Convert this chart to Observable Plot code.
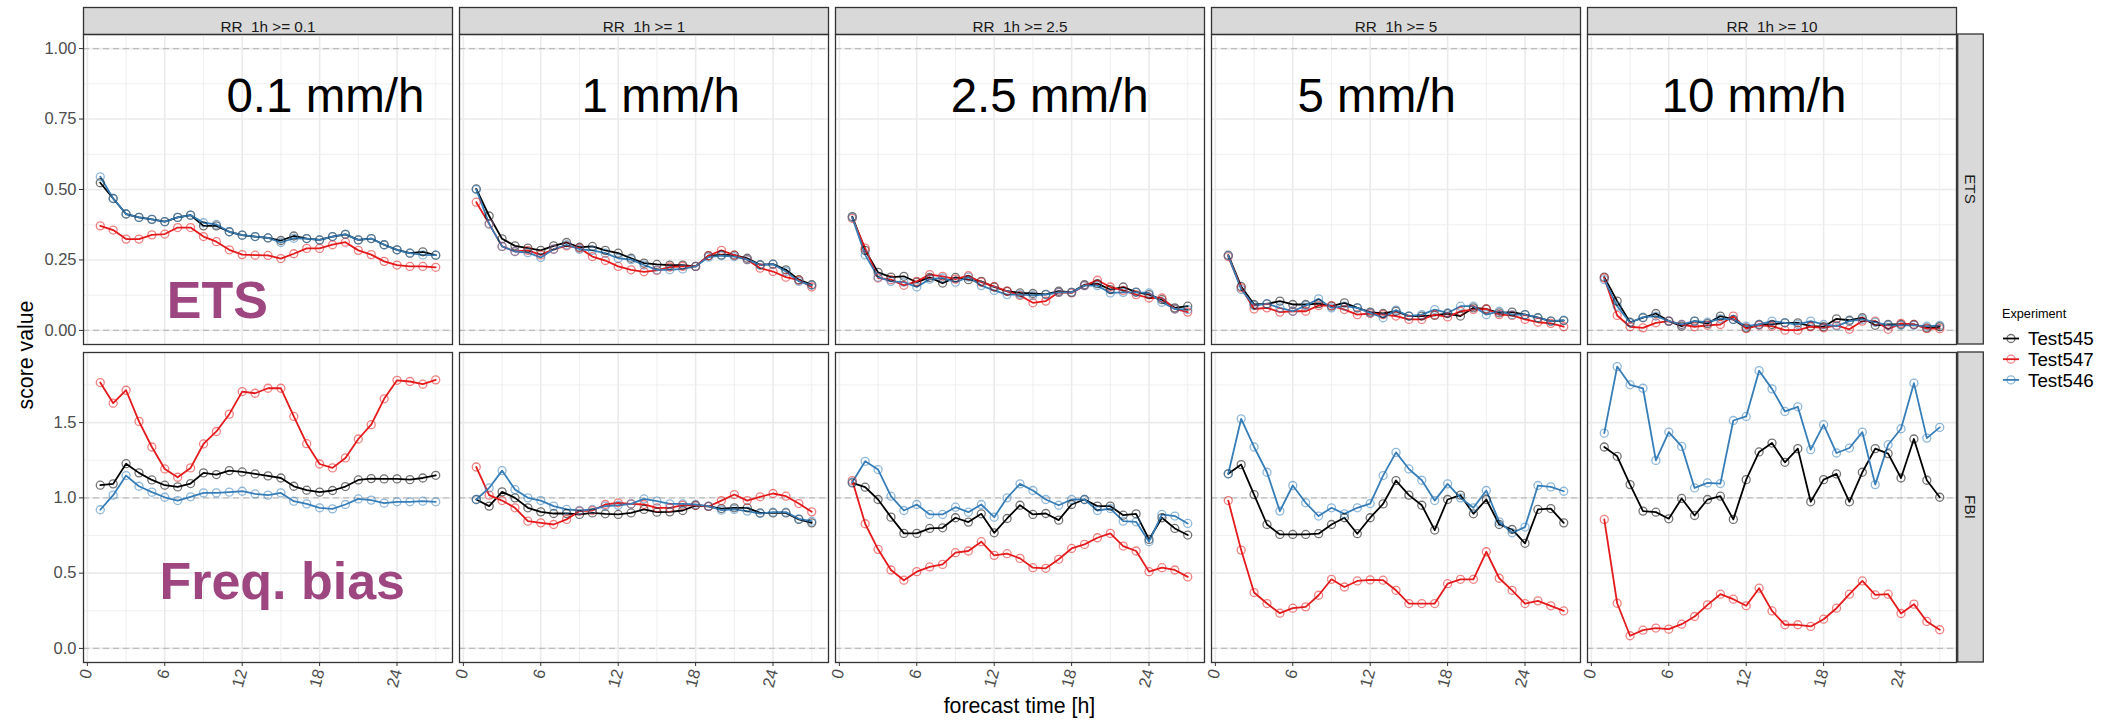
<!DOCTYPE html>
<html>
<head>
<meta charset="utf-8">
<script src="https://cdn.jsdelivr.net/npm/d3@7"></script>
<script src="https://cdn.jsdelivr.net/npm/@observablehq/plot@0.6"></script>
<style>
  body { margin: 0; background: white; }
  #chart { position: relative; width: 2123px; height: 720px; font-family: "Liberation Sans", Arial, sans-serif; }
  #chart svg { position: absolute; left: 0; top: 0; }
</style>
</head>
<body>
<div id="chart"></div>
<script>
// ---------- data ----------
const thresholds = ["0.1", "1", "2.5", "5", "10"];
const hours = [1,2,3,4,5,6,7,8,9,10,11,12,13,14,15,16,17,18,19,20,21,22,23,24,25,26,27];
const experiments = ["Test545", "Test547", "Test546"];
const expColors = ["#000000", "#E41A1C", "#377EB8"];
const xTicks = [0, 6, 12, 18, 24];

// ETS per threshold (0.1, 1, 2.5, 5, 10)
const ets545 = [
  [0.524,0.468,0.413,0.401,0.394,0.386,0.401,0.409,0.371,0.371,0.35,0.338,0.333,0.328,0.319,0.335,0.326,0.321,0.333,0.341,0.321,0.326,0.304,0.286,0.274,0.279,0.267],
  [0.502,0.406,0.325,0.3,0.292,0.284,0.3,0.312,0.295,0.298,0.284,0.274,0.256,0.239,0.234,0.232,0.232,0.227,0.265,0.268,0.267,0.256,0.233,0.235,0.215,0.18,0.162],
  [0.404,0.284,0.206,0.189,0.192,0.171,0.188,0.168,0.188,0.18,0.174,0.154,0.139,0.133,0.131,0.128,0.139,0.135,0.162,0.166,0.145,0.154,0.136,0.127,0.109,0.08,0.086],
  [0.267,0.156,0.092,0.094,0.104,0.092,0.092,0.095,0.086,0.098,0.08,0.065,0.06,0.068,0.051,0.051,0.053,0.06,0.051,0.08,0.076,0.062,0.065,0.056,0.045,0.033,0.035],
  [0.189,0.104,0.029,0.045,0.06,0.033,0.015,0.033,0.024,0.051,0.039,0.009,0.021,0.021,0.027,0.027,0.015,0.013,0.041,0.036,0.045,0.018,0.021,0.021,0.021,0.009,0.013]
];
const ets547 = [
  [0.371,0.356,0.324,0.324,0.339,0.342,0.365,0.365,0.333,0.315,0.286,0.269,0.267,0.266,0.255,0.272,0.291,0.291,0.304,0.313,0.284,0.269,0.245,0.232,0.227,0.227,0.224],
  [0.455,0.378,0.298,0.28,0.284,0.268,0.288,0.3,0.292,0.262,0.248,0.227,0.215,0.208,0.213,0.225,0.227,0.227,0.265,0.284,0.267,0.251,0.221,0.209,0.189,0.178,0.154],
  [0.398,0.292,0.186,0.18,0.16,0.174,0.198,0.192,0.182,0.194,0.171,0.156,0.139,0.124,0.098,0.104,0.135,0.133,0.159,0.178,0.154,0.142,0.127,0.115,0.115,0.076,0.065],
  [0.262,0.151,0.076,0.08,0.065,0.068,0.068,0.088,0.088,0.074,0.056,0.06,0.056,0.051,0.039,0.039,0.056,0.048,0.068,0.074,0.076,0.056,0.053,0.039,0.029,0.025,0.013],
  [0.186,0.053,0.013,0.009,0.027,0.033,0.021,0.013,0.018,0.021,0.051,0.006,0.018,0.015,0.001,0.001,0.013,0.009,0.018,0.004,0.033,0.033,0.004,0.025,0.021,0.006,0.006]
];
const ets546 = [
  [0.545,0.468,0.413,0.401,0.394,0.386,0.401,0.409,0.382,0.376,0.35,0.338,0.333,0.328,0.312,0.327,0.326,0.321,0.333,0.341,0.321,0.326,0.304,0.286,0.274,0.268,0.267],
  [0.5,0.378,0.298,0.28,0.276,0.259,0.288,0.304,0.288,0.284,0.274,0.256,0.251,0.232,0.215,0.215,0.218,0.227,0.26,0.265,0.262,0.251,0.232,0.235,0.209,0.174,0.16],
  [0.401,0.268,0.189,0.174,0.171,0.154,0.182,0.186,0.171,0.189,0.159,0.142,0.127,0.127,0.124,0.127,0.135,0.135,0.159,0.159,0.133,0.135,0.135,0.133,0.1,0.076,0.074],
  [0.265,0.145,0.088,0.095,0.08,0.068,0.088,0.112,0.08,0.086,0.08,0.062,0.045,0.072,0.051,0.056,0.074,0.062,0.086,0.086,0.056,0.068,0.056,0.056,0.045,0.033,0.036],
  [0.18,0.086,0.027,0.047,0.051,0.033,0.021,0.033,0.029,0.041,0.039,0.015,0.021,0.033,0.027,0.021,0.033,0.021,0.015,0.033,0.039,0.029,0.018,0.018,0.018,0.015,0.018]
];

// FBI per threshold
const fbi545 = [
  [1.084,1.093,1.227,1.166,1.119,1.084,1.073,1.095,1.166,1.155,1.181,1.172,1.159,1.146,1.132,1.077,1.051,1.038,1.049,1.075,1.119,1.128,1.126,1.126,1.121,1.132,1.15],
  [0.989,0.945,1.04,1.0,0.934,0.907,0.896,0.896,0.89,0.9,0.894,0.89,0.9,0.923,0.905,0.907,0.916,0.949,0.943,0.929,0.934,0.934,0.9,0.9,0.9,0.857,0.834],
  [1.099,1.071,0.989,0.872,0.764,0.764,0.797,0.801,0.868,0.839,0.894,0.768,0.863,0.951,0.89,0.896,0.852,0.956,0.989,0.945,0.945,0.885,0.894,0.724,0.868,0.797,0.753],
  [1.16,1.221,1.022,0.823,0.757,0.757,0.757,0.762,0.823,0.868,0.762,0.868,0.96,1.115,1.018,0.951,0.786,0.989,1.018,0.894,0.989,0.823,0.79,0.698,0.923,0.929,0.834],
  [1.338,1.276,1.088,0.912,0.905,0.861,0.996,0.883,0.989,1.011,0.857,1.121,1.305,1.364,1.236,1.327,0.974,1.121,1.159,0.974,1.17,1.327,1.294,1.132,1.391,1.117,1.004]
];
const fbi547 = [
  [1.766,1.629,1.715,1.508,1.338,1.192,1.137,1.199,1.358,1.441,1.556,1.706,1.695,1.728,1.728,1.541,1.36,1.225,1.199,1.265,1.391,1.486,1.658,1.781,1.773,1.755,1.784],
  [1.205,1.018,0.982,0.934,0.845,0.834,0.823,0.857,0.912,0.916,0.956,0.967,0.96,0.956,0.934,0.934,0.951,0.951,0.943,0.982,1.022,0.982,1.007,1.029,1.011,0.962,0.907],
  [1.115,0.828,0.658,0.521,0.453,0.51,0.541,0.558,0.636,0.647,0.709,0.618,0.629,0.598,0.536,0.532,0.592,0.664,0.691,0.735,0.764,0.68,0.647,0.51,0.536,0.521,0.475],
  [0.982,0.653,0.371,0.298,0.234,0.267,0.276,0.353,0.459,0.408,0.448,0.455,0.453,0.386,0.298,0.298,0.298,0.43,0.459,0.459,0.642,0.466,0.386,0.298,0.316,0.283,0.249],
  [0.857,0.3,0.084,0.121,0.135,0.128,0.161,0.212,0.289,0.36,0.327,0.283,0.4,0.249,0.157,0.157,0.146,0.194,0.267,0.36,0.448,0.355,0.36,0.232,0.294,0.179,0.124]
];
const fbi546 = [
  [0.921,1.018,1.148,1.077,1.038,1.004,0.982,1.007,1.033,1.033,1.038,1.044,1.026,1.018,1.033,0.978,0.96,0.934,0.927,0.956,0.993,0.985,0.965,0.974,0.974,0.978,0.974],
  [0.989,1.066,1.181,1.055,1.0,0.982,0.945,0.923,0.916,0.923,0.945,0.951,0.96,0.993,0.978,0.96,0.96,0.956,0.945,0.918,0.923,0.912,0.896,0.905,0.905,0.861,0.845],
  [1.104,1.243,1.188,1.011,0.916,0.956,0.89,0.89,0.938,0.905,0.956,0.872,1.0,1.093,1.049,0.989,0.951,0.989,0.989,0.916,0.929,0.845,0.841,0.709,0.89,0.879,0.83],
  [1.16,1.525,1.338,1.17,0.912,1.082,0.967,0.879,0.934,0.894,0.934,0.962,1.148,1.302,1.192,1.117,0.982,1.093,1.0,0.934,1.049,0.841,0.768,0.806,1.082,1.073,1.044],
  [1.43,1.872,1.751,1.728,1.249,1.437,1.342,1.066,1.099,1.095,1.514,1.541,1.845,1.724,1.574,1.605,1.32,1.486,1.298,1.331,1.437,1.088,1.353,1.459,1.762,1.397,1.468]
];

// annotation texts (placed in data coordinates of each facet)
const mmLabels = ["0.1 mm/h", "1 mm/h", "2.5 mm/h", "5 mm/h", "10 mm/h"];
const mmLabelX = [18.45, 15.3, 16.3, 12.5, 12.6];
const mmLabelY = 0.83;

// ---------- build tables ----------
function table(seriesList) {
  const rows = [];
  experiments.forEach((e, i) => {
    seriesList[i].forEach((vals, t) => {
      vals.forEach((v, k) => rows.push({exp: e, thr: thresholds[t], h: hours[k], v}));
    });
  });
  return rows;
}
const etsRows = table([ets545, ets547, ets546]);
const fbiRows = table([fbi545, fbi547, fbi546]);

// ---------- layout ----------
const W = 2123, H = 720;
const FONT = '"Liberation Sans", Arial, sans-serif';
const common = {
  width: W, height: H,
  marginLeft: 81, marginRight: 165.3,
  style: {background: "transparent", fontFamily: FONT, overflow: "visible"},
  fx: {domain: thresholds, paddingInner: 0.0178, paddingOuter: 0, axis: null, label: null},
  color: {domain: experiments, range: expColors}
};

function seriesMarks(rows) {
  return [
    Plot.line(rows, {x: "h", y: "v", fx: "thr", z: "exp", stroke: "exp", strokeWidth: 1.8}),
    Plot.dot(rows, {x: "h", y: "v", fx: "thr", stroke: "exp", fill: "none", r: 4, strokeWidth: 1.3, strokeOpacity: 0.55})
  ];
}
const gridStroke = "#ebebeb";

const plotA = Plot.plot({
  ...common,
  marginTop: 34, marginBottom: H - 344,
  x: {domain: [-0.3, 28.3], axis: null},
  y: {domain: [-0.05, 1.05], axis: null},
  marks: [
    Plot.frame({fill: "#d9d9d9", stroke: "#333333", strokeWidth: 1.3, insetTop: -27, insetBottom: 310}),
    Plot.text(thresholds, {fx: d => d, text: d => "RR_1h >= " + d, frameAnchor: "top", dy: -13.5, fontSize: 15.3, fill: "#1a1a1a"}),
    Plot.gridY({ticks: [0.125, 0.375, 0.625, 0.875], stroke: gridStroke, strokeOpacity: 1, strokeWidth: 0.8}),
    Plot.gridX({ticks: [3, 9, 15, 21, 27], stroke: gridStroke, strokeOpacity: 1, strokeWidth: 0.8}),
    Plot.gridY({ticks: [0, 0.25, 0.5, 0.75, 1], stroke: gridStroke, strokeOpacity: 1, strokeWidth: 1.6}),
    Plot.gridX({ticks: xTicks, stroke: gridStroke, strokeOpacity: 1, strokeWidth: 1.6}),
    Plot.ruleY([0, 1], {stroke: "#bdbdbd", strokeWidth: 1.3, strokeDasharray: "6,4"}),
    ...seriesMarks(etsRows),
    Plot.text(thresholds, {fx: d => d, x: (d, i) => mmLabelX[i], y: () => mmLabelY, text: (d, i) => mmLabels[i], fontSize: 47.5, fill: "#000"}),
    Plot.text(["0.1"], {fx: d => d, x: () => 10.08, y: () => 0.104, text: () => "ETS", fontSize: 52, fontWeight: "bold", fill: "#9d4680"}),
    Plot.frame({stroke: "#333333", strokeWidth: 1.3}),
    Plot.axisY({ticks: [0, 0.25, 0.5, 0.75, 1], tickFormat: d3.format(".2f"), tickSize: 4, tickPadding: 3, fontSize: 16.5, stroke: "#333333", fill: "#4d4d4d", label: null})
  ]
});

const plotB = Plot.plot({
  ...common,
  marginTop: 352, marginBottom: H - 662,
  x: {domain: [-0.3, 28.3]},
  y: {domain: [-0.0936, 1.9656]},
  marks: [
    Plot.gridY({ticks: [0.25, 0.75, 1.25, 1.75], stroke: gridStroke, strokeOpacity: 1, strokeWidth: 0.8}),
    Plot.gridX({ticks: [3, 9, 15, 21, 27], stroke: gridStroke, strokeOpacity: 1, strokeWidth: 0.8}),
    Plot.gridY({ticks: [0, 0.5, 1, 1.5], stroke: gridStroke, strokeOpacity: 1, strokeWidth: 1.6}),
    Plot.gridX({ticks: xTicks, stroke: gridStroke, strokeOpacity: 1, strokeWidth: 1.6}),
    Plot.ruleY([0, 1], {stroke: "#bdbdbd", strokeWidth: 1.3, strokeDasharray: "6,4"}),
    ...seriesMarks(fbiRows),
    Plot.text(["0.1"], {fx: d => d, x: () => 15.1, y: () => 0.439, text: () => "Freq. bias", fontSize: 52, fontWeight: "bold", fill: "#9d4680"}),
    Plot.frame({stroke: "#333333", strokeWidth: 1.3}),
    Plot.axisY({ticks: [0, 0.5, 1, 1.5], tickFormat: d3.format(".1f"), tickSize: 4, tickPadding: 3, fontSize: 16.5, stroke: "#333333", fill: "#4d4d4d", label: null}),
    Plot.axisX({ticks: xTicks, tickRotate: -75, tickSize: 4, tickPadding: 3, fontSize: 16.5, stroke: "#333333", fill: "#4d4d4d", label: null})
  ]
});

const chart = document.getElementById("chart");
chart.appendChild(plotA);
chart.appendChild(plotB);

// ---------- decorations: row strips, axis titles, legend ----------
const svg = d3.select(chart).append("svg")
  .attr("width", W).attr("height", H)
  .style("font-family", FONT);

const rowStrips = [{label: "ETS", y0: 34, y1: 344}, {label: "FBI", y0: 352, y1: 662}];
const stripX = 1957.7, stripW = 25.6;
rowStrips.forEach(s => {
  svg.append("rect").attr("x", stripX).attr("y", s.y0).attr("width", stripW).attr("height", s.y1 - s.y0)
    .attr("fill", "#d9d9d9").attr("stroke", "#333333").attr("stroke-width", 1.3);
  svg.append("text").attr("transform", `translate(${stripX + stripW / 2},${(s.y0 + s.y1) / 2}) rotate(90)`)
    .attr("text-anchor", "middle").attr("dy", "0.35em").attr("font-size", 15.3).attr("fill", "#1a1a1a").text(s.label);
});

svg.append("text").attr("x", 1019.4).attr("y", 713).attr("text-anchor", "middle")
  .attr("font-size", 21.3).attr("fill", "#000").text("forecast time [h]");
svg.append("text").attr("transform", "translate(33,355) rotate(-90)").attr("text-anchor", "middle")
  .attr("font-size", 21.3).attr("fill", "#000").text("score value");

// legend
svg.append("text").attr("x", 2002).attr("y", 318).attr("font-size", 12.7).attr("fill", "#000").text("Experiment");
experiments.forEach((e, i) => {
  const cy = 338.5 + i * 20.7;
  svg.append("line").attr("x1", 2003).attr("x2", 2019).attr("y1", cy).attr("y2", cy)
    .attr("stroke", expColors[i]).attr("stroke-width", 1.8);
  svg.append("circle").attr("cx", 2011).attr("cy", cy).attr("r", 4).attr("fill", "none")
    .attr("stroke", expColors[i]).attr("stroke-width", 1.3).attr("stroke-opacity", 0.55);
  svg.append("text").attr("x", 2028).attr("y", cy + 6.7).attr("font-size", 18.8).attr("fill", "#000").text(e);
});
</script>
</body>
</html>
